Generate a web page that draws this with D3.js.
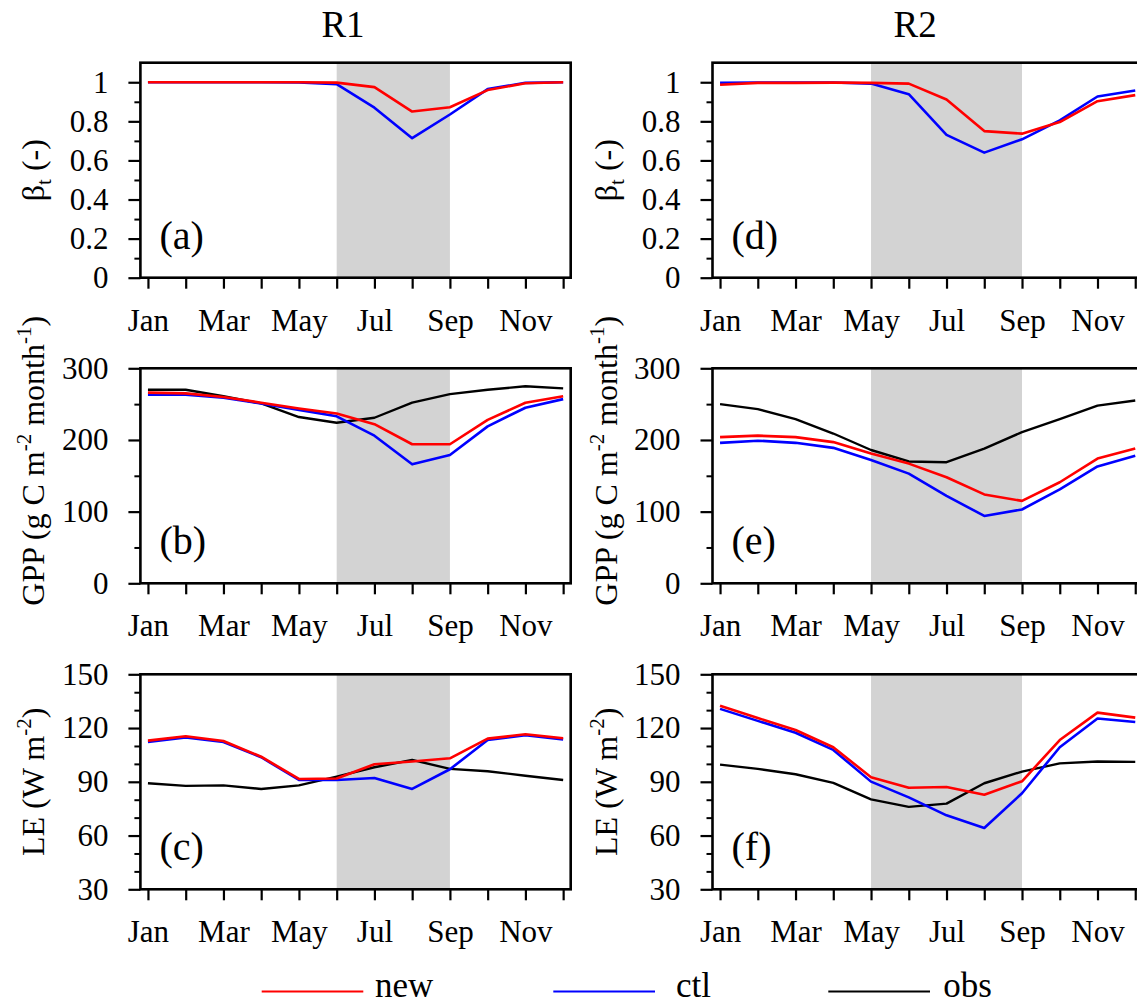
<!DOCTYPE html>
<html>
<head>
<meta charset="utf-8">
<script src="https://cdn.jsdelivr.net/npm/d3@7"></script>
<style>
  html, body { margin: 0; padding: 0; background: #fff; overflow: hidden; }
  svg { display: block; font-family: "Liberation Serif", "Times New Roman", serif; }
</style>
</head>
<body>
<svg id="chart" width="1137" height="1005"></svg>
<script>
// ---------------- data ----------------
const months = ["Jan","Feb","Mar","Apr","May","Jun","Jul","Aug","Sep","Oct","Nov","Dec"];
const monthTickLabels = ["Jan","","Mar","","May","","Jul","","Sep","","Nov",""];
const regionTitles = ["R1", "R2"];
const panelLetters = ["(a)","(b)","(c)","(d)","(e)","(f)"];
const seriesNames = ["new", "ctl", "obs"];

// dry-season shading (month index start, end)
const r1Dry = [5, 8];   // Jun - Sep
const r2Dry = [4, 8];   // May - Sep

// R1 beta_t
const r1BetaNew = [1.0, 1.0, 1.0, 1.0, 1.0, 0.998, 0.975, 0.85, 0.872, 0.96, 0.995, 1.0];
const r1BetaCtl = [1.0, 1.0, 1.0, 1.0, 0.999, 0.99, 0.87, 0.714, 0.835, 0.965, 0.997, 1.0];
// R1 GPP
const r1GppNew = [266, 265, 260, 252, 244, 237, 222, 194, 194, 228, 252, 261];
const r1GppCtl = [263, 263, 259, 251, 242, 233, 206, 166, 179, 219, 245, 257];
const r1GppObs = [270, 270, 261, 251, 232, 224, 231, 252, 264, 270, 275, 272];
// R1 LE
const r1LeNew = [113.0, 115.4, 112.8, 104.0, 91.6, 91.8, 99.8, 101.3, 103.1, 114.1, 116.5, 114.3];
const r1LeCtl = [112.2, 114.8, 112.2, 103.7, 91.0, 91.0, 92.1, 86.0, 97.0, 113.3, 116.0, 113.7];
const r1LeObs = [89.2, 87.7, 88.0, 86.0, 88.0, 92.9, 98.1, 102.2, 97.2, 95.9, 93.4, 91.0];

// R2 beta_t
const r2BetaNew = [0.987, 0.997, 0.997, 0.998, 0.997, 0.993, 0.912, 0.75, 0.737, 0.796, 0.903, 0.934];
const r2BetaCtl = [0.997, 0.999, 0.999, 0.999, 0.993, 0.939, 0.731, 0.640, 0.708, 0.805, 0.927, 0.958];
// R2 GPP
const r2GppNew = [204, 206, 204, 197, 181, 167, 148, 124, 115, 141, 174, 188];
const r2GppCtl = [196, 199, 196, 189, 172, 153, 122, 94, 103, 131, 163, 178];
const r2GppObs = [250, 243, 229, 209, 186, 170, 169, 188, 211, 229, 248, 255];
// R2 LE
const r2LeNew = [132.5, 125.6, 118.9, 109.3, 92.5, 86.7, 87.1, 82.8, 90.3, 113.3, 128.6, 125.8];
const r2LeCtl = [130.7, 124.0, 117.4, 107.8, 90.1, 81.3, 71.3, 64.2, 83.6, 109.3, 125.3, 123.4];
const r2LeObs = [99.6, 97.2, 94.2, 89.4, 80.2, 76.0, 77.8, 89.2, 95.7, 100.3, 101.3, 101.1];

// axis ticks
const betaMajor = [0, 0.2, 0.4, 0.6, 0.8, 1];
const betaMinor = [0.1, 0.3, 0.5, 0.7, 0.9];
const gppMajor = [0, 100, 200, 300];
const gppMinor = [50, 150, 250];
const leMajor = [30, 60, 90, 120, 150];
const leMinor = [40, 50, 70, 80, 100, 110, 130, 140];

const colors = { new: "#ff0000", ctl: "#0000ff", obs: "#000000" };

// ---------------- layout ----------------
const colX = [140.4, 712.5];
const rowY = [62.7, 368.3, 674.3];
const pw = 430.3, ph = 215;

const rows = [
  { domain: [0, 1.1], major: betaMajor, minor: betaMinor, fmt: d => String(d), title: "beta", titleY: 0 },
  { domain: [0, 300], major: gppMajor, minor: gppMinor, fmt: d => String(d), title: "gpp", titleY: -15 },
  { domain: [30, 150], major: leMajor, minor: leMinor, fmt: d => String(d), title: "le", titleY: 0 }
];

const regionData = [
  [ { new: r1BetaNew, ctl: r1BetaCtl }, { new: r1GppNew, ctl: r1GppCtl, obs: r1GppObs }, { new: r1LeNew, ctl: r1LeCtl, obs: r1LeObs } ],
  [ { new: r2BetaNew, ctl: r2BetaCtl }, { new: r2GppNew, ctl: r2GppCtl, obs: r2GppObs }, { new: r2LeNew, ctl: r2LeCtl, obs: r2LeObs } ]
];
const regionDry = [r1Dry, r2Dry];

const svg = d3.select("#chart");

// titles
regionTitles.forEach((t, c) => {
  svg.append("text")
    .attr("x", colX[c] + 202.6).attr("y", 36.7)
    .attr("text-anchor", "middle")
    .attr("font-size", 37)
    .text(t);
});

function addYTitle(g, kind, cx, cy) {
  const t = g.append("text")
    .attr("transform", `translate(${cx},${cy}) rotate(-90)`)
    .attr("text-anchor", "middle")
    .attr("font-size", 32);
  if (kind === "beta") {
    t.append("tspan").text("\u03B2");
    t.append("tspan").attr("font-size", 21).attr("dy", 7).text("t");
    t.append("tspan").attr("dy", -7).text(" (-)");
  } else if (kind === "gpp") {
    t.append("tspan").text("GPP (g C m");
    t.append("tspan").attr("font-size", 21).attr("dy", -13).text("-2");
    t.append("tspan").attr("dy", 13).text(" month");
    t.append("tspan").attr("font-size", 21).attr("dy", -13).text("-1");
    t.append("tspan").attr("dy", 13).text(")");
  } else {
    t.append("tspan").text("LE (W m");
    t.append("tspan").attr("font-size", 21).attr("dy", -13).text("-2");
    t.append("tspan").attr("dy", 13).text(")");
  }
}

regionData.forEach((panels, c) => {
  panels.forEach((series, r) => {
    const cfg = rows[r];
    const x0 = colX[c], y0 = rowY[r];
    const g = svg.append("g").attr("transform", `translate(${x0},${y0})`);
    const x = d3.scaleLinear().domain([-0.2, 11.2]).range([0, pw]);
    const y = d3.scaleLinear().domain(cfg.domain).range([ph, 0]);

    // shading
    const dry = regionDry[c];
    g.append("rect")
      .attr("x", x(dry[0])).attr("y", 0)
      .attr("width", x(dry[1]) - x(dry[0])).attr("height", ph)
      .attr("fill", "#d3d3d3");

    // lines
    const line = d3.line().x((d, i) => x(i)).y(d => y(d));
    ["obs", "ctl", "new"].forEach(k => {
      if (!series[k]) return;
      g.append("path")
        .datum(series[k])
        .attr("d", line)
        .attr("fill", "none")
        .attr("stroke", colors[k])
        .attr("stroke-width", k === "obs" ? 2.4 : 2.6)
        .attr("stroke-linejoin", "round");
    });

    // y axis major
    const ya = g.append("g").call(
      d3.axisLeft(y).tickValues(cfg.major).tickSize(12).tickPadding(20).tickFormat(cfg.fmt)
    );
    ya.select(".domain").remove();
    ya.selectAll("line").attr("stroke-width", 2.2);
    ya.selectAll("text").attr("font-size", 31).attr("font-family", "Liberation Serif").attr("fill", "#000");
    // y axis minor
    const ym = g.append("g").call(
      d3.axisLeft(y).tickValues(cfg.minor).tickSize(6).tickFormat("")
    );
    ym.select(".domain").remove();
    ym.selectAll("line").attr("stroke-width", 2);

    // x axis
    const xa = g.append("g").attr("transform", `translate(0,${ph})`).call(
      d3.axisBottom(x).tickValues(d3.range(12)).tickSize(11).tickPadding(20)
        .tickFormat(i => monthTickLabels[i])
    );
    xa.select(".domain").remove();
    xa.selectAll("line").attr("stroke-width", 2.2);
    xa.selectAll("text").attr("font-size", 31).attr("font-family", "Liberation Serif").attr("fill", "#000");

    // frame
    g.append("rect")
      .attr("x", 0).attr("y", 0).attr("width", pw).attr("height", ph)
      .attr("fill", "none").attr("stroke", "#000").attr("stroke-width", 2.6);

    // panel letter
    g.append("text")
      .attr("x", 19).attr("y", ph - 29)
      .attr("font-size", 40)
      .text(panelLetters[c * 3 + r]);

    // y title
    addYTitle(svg, cfg.title, x0 - 96, y0 + ph / 2 + cfg.titleY);
  });
});

// legend
const legendItems = [
  { name: seriesNames[0], x1: 261.7, x2: 363.3, tx: 375 },
  { name: seriesNames[1], x1: 553.3, x2: 655, tx: 676 },
  { name: seriesNames[2], x1: 828.3, x2: 930, tx: 943.3 }
];
legendItems.forEach(it => {
  svg.append("line")
    .attr("x1", it.x1).attr("x2", it.x2).attr("y1", 991.5).attr("y2", 991.5)
    .attr("stroke", colors[it.name]).attr("stroke-width", 2.2);
  svg.append("text")
    .attr("x", it.tx).attr("y", 997)
    .attr("font-size", 35)
    .text(it.name);
});
</script>
</body>
</html>
